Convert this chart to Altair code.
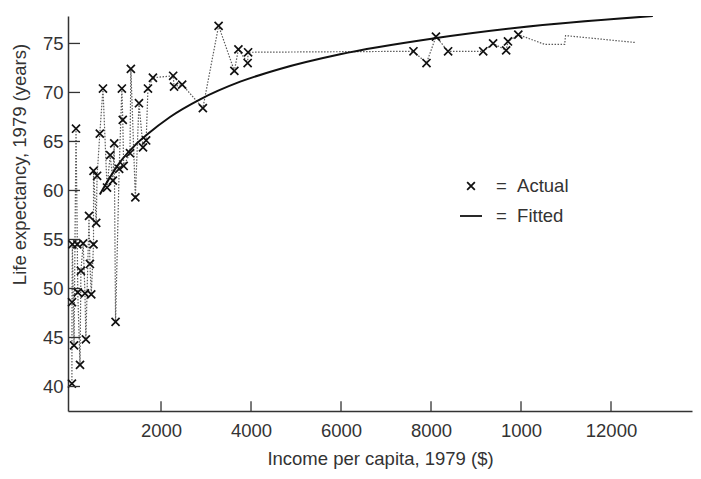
import altair as alt
import pandas as pd

# Actual observations (income per capita $, life expectancy years), in plotted order
actual_income = [20, 22, 30, 67, 111, 140, 150, 200, 220, 270, 310, 330, 400, 420, 450,
                 500, 500, 560, 580, 640, 710, 800, 870, 930, 960, 990, 1070, 1130, 1150,
                 1170, 1310, 1330, 1430, 1510, 1600, 1670, 1710, 1820, 2270, 2290, 2470,
                 2930, 3280, 3630, 3720, 3925, 3935, 7610, 7900, 8110, 8380, 9160, 9380,
                 9670, 9710, 9940]
actual_life = [40.3, 48.6, 54.5, 44.2, 66.3, 54.5, 49.6, 42.2, 51.8, 54.6, 49.5, 44.8, 57.4,
               52.5, 49.4, 54.5, 62.0, 56.7, 61.5, 65.8, 70.4, 60.3, 63.6, 61.0, 64.8, 46.6,
               62.2, 70.4, 67.2, 62.5, 63.8, 72.4, 59.3, 68.9, 64.4, 65.1, 70.4, 71.5, 71.7,
               70.6, 70.8, 68.4, 76.8, 72.2, 74.4, 73.0, 74.1, 74.2, 73.0, 75.7, 74.2, 74.2,
               75.0, 74.3, 75.2, 75.9]

# Unmarked continuation of the dotted line
tail_income = [10530, 10970, 10990, 12530]
tail_life = [74.9, 74.9, 75.8, 75.1]

# Fitted curve
fit_income = [640, 1090, 1420, 1690, 2200, 2870, 3760, 4640, 5980, 8040, 9910, 12930]
fit_life = [59.6, 62.9, 64.6, 65.7, 67.5, 69.3, 71.1, 72.4, 73.9, 75.5, 76.6, 77.8]

x_ticks = [2000, 4000, 6000, 8000, 10000, 12000]
y_ticks = [40, 45, 50, 55, 60, 65, 70, 75]
legend_labels = ["Actual", "Fitted"]

X_MIN, X_MAX = -67, 13800
Y_MIN, Y_MAX = 37.5, 77.8
FONT = "Liberation Sans"
INK = "#333333"

line_df = pd.DataFrame({
    "income": actual_income + tail_income,
    "life": actual_life + tail_life,
})
line_df["seq"] = range(len(line_df))
pts_df = pd.DataFrame({"income": actual_income, "life": actual_life, "series": "Actual"})
fit_df = pd.DataFrame({"income": fit_income, "life": fit_life})
xt_df = pd.DataFrame({"v": x_ticks})
yt_df = pd.DataFrame({"v": y_ticks})

xscale = alt.Scale(domain=[X_MIN, X_MAX], nice=False, zero=False)
yscale = alt.Scale(domain=[Y_MIN, Y_MAX], nice=False, zero=False)

x_axis = alt.Axis(
    title="Income per capita, 1979 ($)", values=x_ticks, format="d",
    labelExpr="datum.value == 10000 ? '1000' : datum.label",
    ticks=False, tickSize=0, grid=False, labelPadding=10,
    titleY=47, titleBaseline="middle",
)
y_axis = alt.Axis(
    title="Life expectancy, 1979 (years)", values=y_ticks,
    ticks=False, tickSize=0, grid=False, labelPadding=5,
    titleX=-49, titleY=148, titleBaseline="middle", titleAlign="center", titleAngle=270,
)

dotted = alt.Chart(line_df).mark_line(
    color="#5a5a5a", strokeWidth=1.2, strokeDash=[1.5, 1.5]
).encode(
    x=alt.X("income:Q", scale=xscale, axis=x_axis),
    y=alt.Y("life:Q", scale=yscale, axis=y_axis),
    order="seq:Q",
)

fitted = alt.Chart(fit_df).mark_line(
    color="#111111", strokeWidth=2, interpolate="monotone", clip=True
).encode(
    x=alt.X("income:Q", scale=xscale),
    y=alt.Y("life:Q", scale=yscale),
)

xpath = "M-0.35,-0.35L0.35,0.35M-0.35,0.35L0.35,-0.35"
points = alt.Chart(pts_df).mark_point(
    filled=False, color="#111111", strokeWidth=1.7, size=529, opacity=1
).encode(
    x=alt.X("income:Q", scale=xscale),
    y=alt.Y("life:Q", scale=yscale),
    shape=alt.Shape(
        "series:N",
        scale=alt.Scale(domain=legend_labels, range=[xpath, "stroke"]),
        legend=alt.Legend(
            title=None, orient="none", legendX=391, legendY=158,
            labelExpr="'= \u00a0' + datum.label",
            labelFont=FONT, labelFontSize=18.5, labelColor=INK,
            symbolSize=484, symbolStrokeWidth=1.8, symbolStrokeColor="#111111",
            symbolFillColor="transparent", rowPadding=8, labelOffset=13, padding=0,
        ),
    ),
)

xtick_marks = alt.Chart(xt_df).mark_rule(color=INK, strokeWidth=1.3).encode(
    x=alt.X("v:Q", scale=xscale),
    y=alt.datum(Y_MIN),
    y2=alt.datum(Y_MIN + 1.0),
)
ytick_marks = alt.Chart(yt_df).mark_rule(color=INK, strokeWidth=1.3).encode(
    y=alt.Y("v:Q", scale=yscale),
    x=alt.datum(X_MIN),
    x2=alt.datum(X_MIN + 267),
)

chart = alt.layer(dotted, fitted, points, xtick_marks, ytick_marks).properties(
    width=624, height=395,
    padding={"left": 60, "top": 8, "right": 1, "bottom": 60},
    autosize=alt.AutoSizeParams(type="none"),
    background="white",
).configure_view(stroke=None).configure_axis(
    labelFont=FONT, labelFontSize=18.5, labelColor=INK,
    titleFont=FONT, titleFontSize=18.5, titleColor=INK, titleFontWeight="normal",
    domainColor=INK, domainWidth=1.5,
)

chart.save("out.html", embed_options={"renderer": "svg", "actions": False})
